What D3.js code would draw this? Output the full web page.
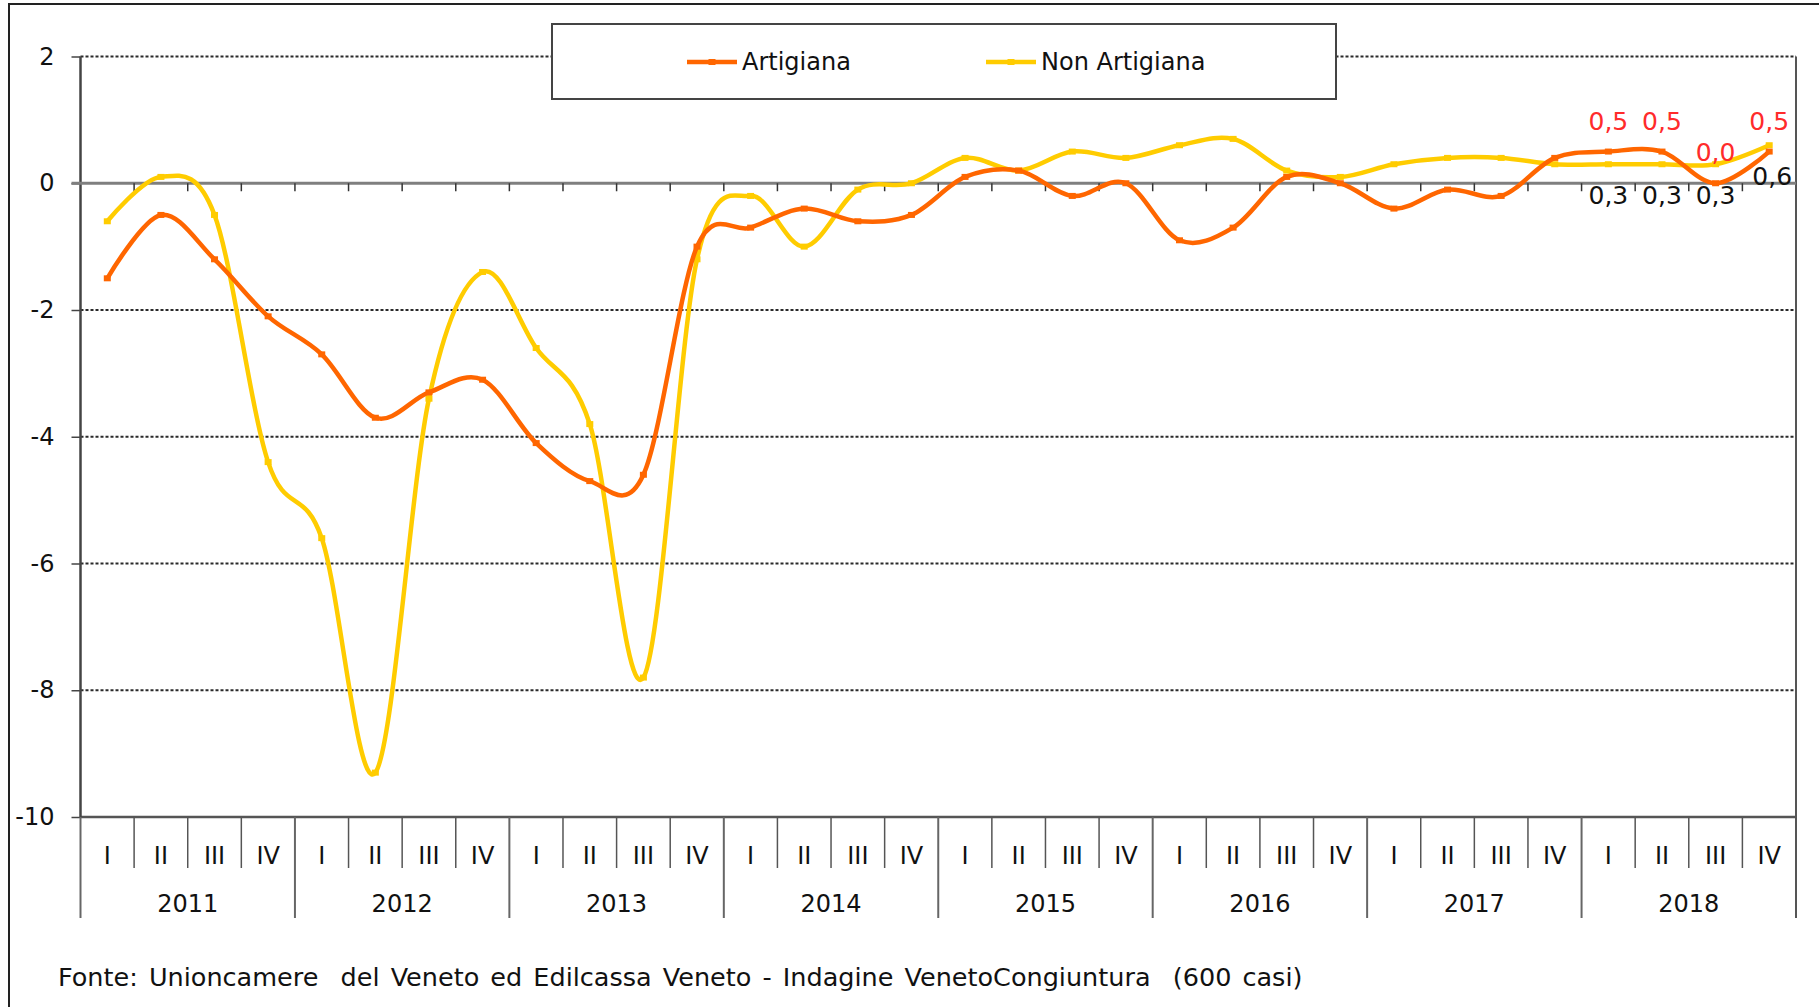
<!DOCTYPE html>
<html>
<head>
<meta charset="utf-8">
<script src="https://cdn.jsdelivr.net/npm/d3@7"></script>
<style>
  body { margin: 0; background: #fff; }
  svg { display: block; font-family: "DejaVu Sans", Verdana, sans-serif; }
</style>
</head>
<body>
<script>
// quarters and years of the category axis
const years = ["2011", "2012", "2013", "2014", "2015", "2016", "2017", "2018"];
const quarters = ["I", "II", "III", "IV"];

// values (one per quarter, 2011-I .. 2018-IV)
const artigiana = [-1.5, -0.5, -1.2, -2.1, -2.7, -3.7, -3.3, -3.1,
                   -4.1, -4.7, -4.6, -1.0, -0.7, -0.4, -0.6, -0.5,
                   0.1, 0.2, -0.2, 0.0, -0.9, -0.7, 0.1, 0.0,
                   -0.4, -0.1, -0.2, 0.4, 0.5, 0.5, 0.0, 0.5];
const nonArtigiana = [-0.6, 0.1, -0.5, -4.4, -5.6, -9.3, -3.4, -1.4,
                      -2.6, -3.8, -7.8, -1.2, -0.2, -1.0, -0.1, 0.0,
                      0.4, 0.2, 0.5, 0.4, 0.6, 0.7, 0.2, 0.1,
                      0.3, 0.4, 0.4, 0.3, 0.3, 0.3, 0.3, 0.6];
const yTicks = [2, 0, -2, -4, -6, -8, -10];
const seriesNames = ["Artigiana", "Non Artigiana"];
const labelledFrom = 28; // only 2018 gets data labels

const width = 1819, height = 1007;
const plot = {left: 80.5, right: 1796, top: 56.5, bottom: 817};

const cats = d3.range(years.length * quarters.length);

const svg = d3.select("body").append("svg")
  .attr("width", width)
  .attr("height", height);

// outer frame
svg.append("rect")
  .attr("x", 9).attr("y", 4)
  .attr("width", width).attr("height", height + 10)
  .attr("fill", "none").attr("stroke", "#222").attr("stroke-width", 2);

const x = d3.scaleBand().domain(cats).range([plot.left, plot.right]).padding(0);
const y = d3.scaleLinear().domain([-10, 2]).range([plot.bottom, plot.top]);
const cx = i => x(i) + x.bandwidth() / 2;

// gridlines (dashed)
svg.append("g").selectAll("line")
  .data(yTicks.filter(d => d !== 0 && d !== -10))
  .join("line")
    .attr("x1", plot.left).attr("x2", plot.right)
    .attr("y1", d => y(d)).attr("y2", d => y(d))
    .attr("stroke", "#2a2a2a").attr("stroke-width", 2)
    .attr("stroke-dasharray", "3,2");

// bottom line of the plot
svg.append("line")
  .attr("x1", plot.left).attr("x2", plot.right)
  .attr("y1", y(-10)).attr("y2", y(-10))
  .attr("stroke", "#555").attr("stroke-width", 2.5);

// left axis
const yAxis = svg.append("g")
  .attr("transform", `translate(${plot.left},0)`)
  .call(d3.axisLeft(y).tickValues(yTicks).tickSize(9).tickPadding(17).tickFormat(d => String(d)));
yAxis.select(".domain").remove();
yAxis.selectAll(".tick line").attr("stroke", "#444").attr("stroke-width", 1.5);
yAxis.selectAll(".tick text")
  .attr("font-family", "DejaVu Sans, Verdana, sans-serif")
  .attr("font-size", 24).attr("fill", "#111");

svg.append("line")
  .attr("x1", plot.left).attr("x2", plot.left)
  .attr("y1", plot.top).attr("y2", plot.bottom)
  .attr("stroke", "#444").attr("stroke-width", 2.5);

// right edge of the plot, running down through the category area
svg.append("line")
  .attr("x1", plot.right).attr("x2", plot.right)
  .attr("y1", plot.top).attr("y2", 918)
  .attr("stroke", "#555").attr("stroke-width", 2);

// zero line with small ticks at quarter boundaries
svg.append("line")
  .attr("x1", plot.left - 9).attr("x2", plot.right)
  .attr("y1", y(0)).attr("y2", y(0))
  .attr("stroke", "#7f7f7f").attr("stroke-width", 3);
svg.append("g").selectAll("line")
  .data(d3.range(1, cats.length))
  .join("line")
    .attr("x1", i => x(i)).attr("x2", i => x(i))
    .attr("y1", y(0)).attr("y2", y(0) + 8)
    .attr("stroke", "#333").attr("stroke-width", 1.5);

// category axis: quarters then years
const catAxis = svg.append("g").attr("class", "cat-axis");
catAxis.selectAll(".qsep")
  .data(d3.range(0, cats.length + 1).filter(i => i % 4 !== 0))
  .join("line")
    .attr("x1", i => i < cats.length ? x(i) : plot.right)
    .attr("x2", i => i < cats.length ? x(i) : plot.right)
    .attr("y1", plot.bottom).attr("y2", 868)
    .attr("stroke", "#555").attr("stroke-width", 1.5);
catAxis.selectAll(".ysep")
  .data(d3.range(0, years.length))
  .join("line")
    .attr("x1", j => x(j * 4)).attr("x2", j => x(j * 4))
    .attr("y1", plot.bottom).attr("y2", 918)
    .attr("stroke", "#666").attr("stroke-width", 2);
catAxis.selectAll(".qlab")
  .data(cats)
  .join("text")
    .attr("x", i => cx(i)).attr("y", 864)
    .attr("text-anchor", "middle")
    .attr("font-size", 24).attr("fill", "#111")
    .text(i => quarters[i % 4]);
catAxis.selectAll(".ylab")
  .data(years)
  .join("text")
    .attr("x", (d, j) => (x(j * 4) + (j < years.length - 1 ? x(j * 4 + 4) : plot.right)) / 2)
    .attr("y", 912)
    .attr("text-anchor", "middle")
    .attr("font-size", 24).attr("fill", "#111")
    .text(d => d);

// smoothed lines
const color = d3.scaleOrdinal().domain(seriesNames).range(["#ff6600", "#ffcc00"]);
const line = d3.line()
  .x((d, i) => cx(i))
  .y(d => y(d))
  .curve(d3.curveCardinal.tension(0));

const series = [
  {name: "Non Artigiana", values: nonArtigiana},
  {name: "Artigiana", values: artigiana}
];

series.forEach(s => {
  svg.append("path")
    .datum(s.values)
    .attr("d", line)
    .attr("fill", "none")
    .attr("stroke", color(s.name))
    .attr("stroke-width", 4.5)
    .attr("stroke-linejoin", "round");
  svg.append("g").selectAll("rect")
    .data(s.values)
    .join("rect")
      .attr("x", (d, i) => cx(i) - 3.5)
      .attr("y", d => y(d) - 3)
      .attr("width", 7).attr("height", 6)
      .attr("fill", color(s.name));
});

// data labels for 2018
const fmt = v => v.toFixed(1).replace(".", ",");
svg.append("g").selectAll("text")
  .data(artigiana.slice(labelledFrom))
  .join("text")
    .attr("x", (d, k) => cx(labelledFrom + k))
    .attr("y", d => y(d) - 22)
    .attr("text-anchor", "middle")
    .attr("font-size", 25).attr("fill", "#ff2b2b")
    .text(fmt);
svg.append("g").selectAll("text")
  .data(nonArtigiana.slice(labelledFrom))
  .join("text")
    .attr("x", (d, k) => cx(labelledFrom + k) + (k === 3 ? 3 : 0))
    .attr("y", d => y(d) + 40)
    .attr("text-anchor", "middle")
    .attr("font-size", 25).attr("fill", "#111")
    .text(fmt);

// legend
const legend = svg.append("g");
legend.append("rect")
  .attr("x", 552).attr("y", 24).attr("width", 784).attr("height", 75)
  .attr("fill", "#fff").attr("stroke", "#444").attr("stroke-width", 2);
const legendX = {"Artigiana": 687, "Non Artigiana": 986};
seriesNames.forEach(n => {
  const lx = legendX[n];
  legend.append("line")
    .attr("x1", lx).attr("x2", lx + 50)
    .attr("y1", 62).attr("y2", 62)
    .attr("stroke", color(n)).attr("stroke-width", 4.5);
  legend.append("rect")
    .attr("x", lx + 21.5).attr("y", 59).attr("width", 7).attr("height", 6)
    .attr("fill", color(n));
  legend.append("text")
    .attr("x", lx + 55).attr("y", 70)
    .attr("font-size", 24).attr("fill", "#111")
    .text(n);
});

// source note
svg.append("text")
  .attr("x", 58).attr("y", 986)
  .attr("font-size", 25.5).attr("fill", "#111")
  .attr("word-spacing", 3)
  .attr("xml:space", "preserve")
  .style("white-space", "pre")
  .text("Fonte: Unioncamere  del Veneto ed Edilcassa Veneto - Indagine VenetoCongiuntura  (600 casi)");
</script>
</body>
</html>
